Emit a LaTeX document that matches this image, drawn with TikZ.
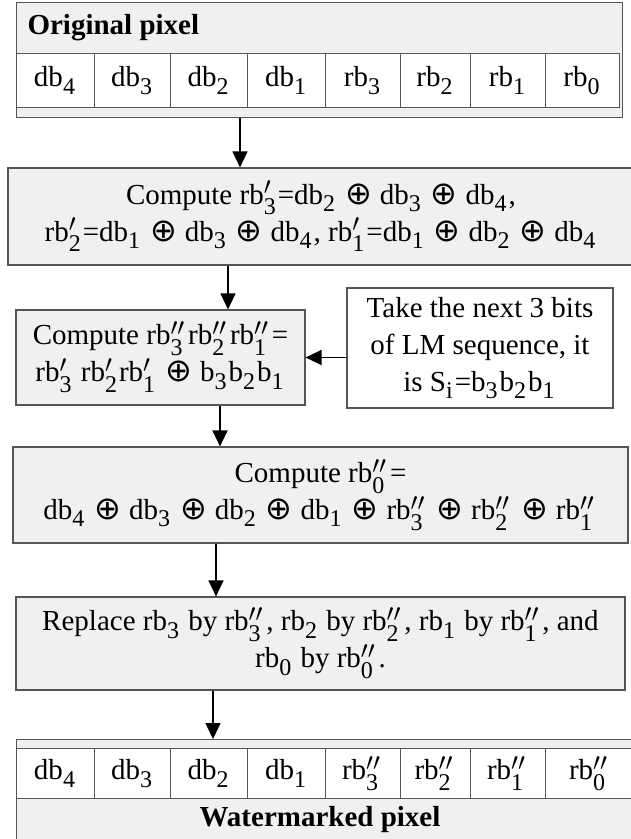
\documentclass[tikz,border=0pt]{standalone}
\usepackage{amsmath}
\usepackage{fontspec}
\setmainfont{Liberation Serif}
\newfontfamily\opfont{DejaVu Sans}
\usetikzlibrary{arrows.meta,positioning,calc}
\DeclareMathSizes{29}{29}{24}{17}
\definecolor{boxgray}{HTML}{F0F0F0}
\definecolor{edgegray}{HTML}{555555}
\newcommand{\bsub}[1]{\ensuremath{_{\text{#1}}}\kern1.5pt\relax}
\newcommand{\bpr}[1]{\ensuremath{'_{\text{#1}}}\kern1.5pt\relax}
\newcommand{\bdpr}[1]{\ensuremath{''_{\text{#1}}}\kern3.5pt\relax}
\newcommand{\xo}{\hspace{8pt}{\fontsize{32}{37}\opfont ⊕}\hspace{8pt}}
\tikzset{
  procbox/.style={draw=edgegray, line width=1.2pt, fill=boxgray, align=center,
                  inner sep=0pt},
  sidebox/.style={procbox, fill=white},
  pixframe/.style={draw=edgegray, line width=1.2pt, fill=boxgray, inner sep=0pt,
                   anchor=north west},
  bitcell/.style={draw=edgegray, line width=1pt, fill=white, inner sep=0pt,
                  anchor=north west},
  flow/.style={-{Triangle[width=15pt,length=16pt]}, line width=1.5pt},
}

\begin{document}
\begin{tikzpicture}[x=1pt, y=1pt, font=\fontsize{29}{37}\selectfont]
    \useasboundingbox (0,0) rectangle (630,-839);
    % original pixel
    \node[pixframe, minimum width=606pt, minimum height=115pt] (orig) at (16,-2) {};
    \node[anchor=west, font=\fontsize{29}{37}\selectfont\bfseries] (origtitle) at (24,-28) {Original pixel};
    \foreach \lbl/\xa/\xb [count=\i] in {db\bsub{4}/16/94, db\bsub{3}/94/170, db\bsub{2}/170/247,
        db\bsub{1}/247/325, rb\bsub{3}/325/400, rb\bsub{2}/400/470, rb\bsub{1}/470/545, rb\bsub{0}/545/619}
      \node[bitcell, minimum width={(\xb-\xa)*1pt}, minimum height=54pt] (o\i) at (\xa,-53) {\lbl};
    % steps
    \node[procbox, minimum width=626pt, minimum height=97pt] (comp1) at (321,-216.5)
      {Compute rb\bpr{3}=db\bsub{2}\xo db\bsub{3}\xo db\bsub{4},\\
       rb\bpr{2}=db\bsub{1}\xo db\bsub{3}\xo db\bsub{4}, rb\bpr{1}=db\bsub{1}\xo db\bsub{2}\xo db\bsub{4}};
    \node[procbox, minimum width=289pt, minimum height=95pt] (comp2) at (160.5,-357.5)
      {Compute rb\bdpr{3}rb\bdpr{2}rb\bdpr{1}=\\ rb\bpr{3} rb\bpr{2}rb\bpr{1}\xo b\bsub{3}b\bsub{2}b\bsub{1}};
    \node[sidebox, minimum width=266pt, minimum height=120pt] (lmseq) at (480,-348)
      {Take the next 3 bits\\ of LM sequence, it\\ is S\bsub{i}=b\bsub{3}b\bsub{2}b\bsub{1}};
    \node[procbox, minimum width=615pt, minimum height=96pt] (comp3) at (320.5,-495)
      {Compute rb\bdpr{0}=\\ db\bsub{4}\xo db\bsub{3}\xo db\bsub{2}\xo db\bsub{1}\xo
       rb\bdpr{3}\xo rb\bdpr{2}\xo rb\bdpr{1}};
    \node[procbox, minimum width=609pt, minimum height=93pt] (repl) at (320.5,-643.5)
      {Replace rb\bsub{3} by rb\bdpr{3}, rb\bsub{2} by rb\bdpr{2}, rb\bsub{1} by rb\bdpr{1}, and\\
       rb\bsub{0} by rb\bdpr{0}.};
    % watermarked pixel
    \node[pixframe, minimum width=618pt, minimum height=106pt] (wm) at (16,-739) {};
    \foreach \lbl/\xa/\xb [count=\i] in {db\bsub{4}/16/94, db\bsub{3}/94/170, db\bsub{2}/170/247,
        db\bsub{1}/247/325, rb\bdpr{3}/325/400, rb\bdpr{2}/400/470, rb\bdpr{1}/470/545, rb\bdpr{0}/545/634}
      \node[bitcell, minimum width={(\xb-\xa)*1pt}, minimum height=50pt] (w\i) at (\xa,-748) {\lbl};
    \node[font=\fontsize{29}{37}\selectfont\bfseries] (wmtitle) at (320,-820) {Watermarked pixel};
    % arrows
    \draw[flow] (orig.south -| 240,0) -- (comp1.north -| 240,0);
    \draw[flow] (comp1.south -| 228,0) -- (comp2.north -| 228,0);
    \draw[flow] (lmseq.west |- comp2.east) -- (comp2.east);
    \draw[flow] (comp2.south -| 220,0) -- (comp3.north -| 220,0);
    \draw[flow] (comp3.south -| 216,0) -- (repl.north -| 216,0);
    \draw[flow] (repl.south -| 213,0) -- (wm.north -| 213,0);
\end{tikzpicture}
\end{document}
